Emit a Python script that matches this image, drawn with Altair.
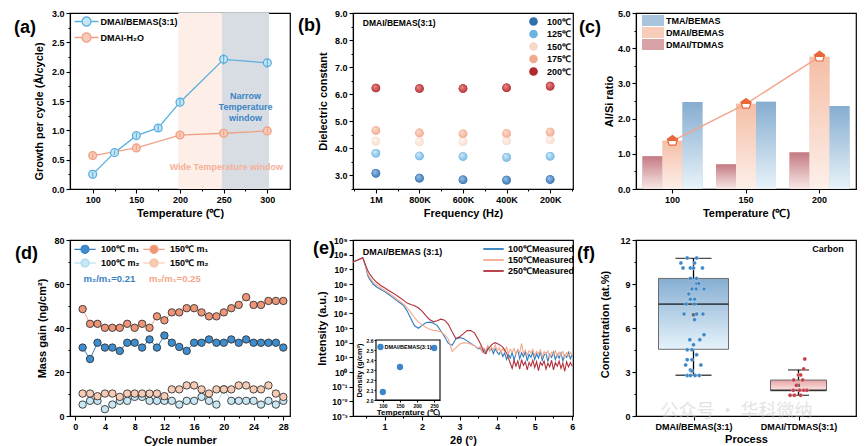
import math
import altair as alt
import pandas as pd

W, H = 220, 176
SPC_COL, SPC_ROW = 63, 51
FONT = "Liberation Sans"

# ---------------- (a) growth per cycle ----------------
a_series = ["DMAI/BEMAS(3:1)", "DMAI-H₂O"]
a_temp_bemas = [100, 125, 150, 175, 200, 250, 300]
a_gpc_bemas = [0.25, 0.62, 0.91, 1.04, 1.48, 2.21, 2.15]
a_err_bemas = [0.04, 0.04, 0.05, 0.05, 0.05, 0.09, 0.08]
a_temp_h2o = [100, 150, 200, 250, 300]
a_gpc_h2o = [0.57, 0.70, 0.92, 0.95, 0.99]
a_err_h2o = [0.04, 0.04, 0.04, 0.04, 0.04]
a_window_name = ["Wide", "Narrow"]
a_window_start = [198, 248]
a_window_end = [248, 302]
a_note_text = ["Narrow\nTemperature\nwindow", "Wide Temperature window"]
a_note_x = [275, 253]
a_note_y = [1.58, 0.375]
a_ticks_x = [100, 125, 150, 175, 200, 225, 250, 275, 300]
a_ticks_y = [0, 0.25, 0.5, 0.75, 1.0, 1.25, 1.5, 1.75, 2.0, 2.25, 2.5, 2.75, 3.0]

# ---------------- (b) dielectric constant ----------------
b_freq = ["1M", "800K", "600K", "400K", "200K"]
b_pos = [1, 2, 3, 4, 5]
b_temp = ["100℃", "125℃", "150℃", "175℃", "200℃"]
b_k_100 = [3.08, 2.90, 2.84, 2.83, 2.85]
b_k_125 = [3.82, 3.72, 3.70, 3.67, 3.71]
b_k_150 = [4.27, 4.25, 4.25, 4.28, 4.32]
b_k_175 = [4.66, 4.57, 4.54, 4.55, 4.60]
b_k_200 = [6.23, 6.21, 6.21, 6.24, 6.30]
b_ticks_x = [0.5, 1, 1.5, 2, 2.5, 3, 3.5, 4, 4.5, 5, 5.5]
b_ticks_y = [2.5, 3.0, 3.5, 4.0, 4.5, 5.0, 5.5, 6.0, 6.5, 7.0, 7.5, 8.0, 8.5, 9.0]

# ---------------- (c) Al/Si ratio ----------------
c_temp = ["100", "150", "200"]
c_series = ["DMAI/TDMAS", "DMAI/BEMAS", "TMA/BEMAS"]
c_legend_order = ["TMA/BEMAS", "DMAI/BEMAS", "DMAI/TDMAS"]
c_tdmas = [0.93, 0.70, 1.04]
c_bemas = [1.37, 2.42, 3.76]
c_tma = [2.47, 2.48, 2.36]
c_ticks_y = [0, 0.5, 1.0, 1.5, 2.0, 2.5, 3.0, 3.5, 4.0, 4.5, 5.0]

# ---------------- (d) mass gain ----------------
d_series = ["100℃ m₁", "150℃ m₁", "100℃ m₂", "150℃ m₂"]
d_legend_order = ["100℃ m₁", "100℃ m₂", "150℃ m₁", "150℃ m₂"]  # legend fills column-wise
d_cycle = [1, 2, 3, 4, 5, 6, 7, 8, 9, 10, 11, 12, 13, 14, 15, 16, 17, 18, 19, 20,
           21, 22, 23, 24, 25, 26, 27, 28]
d_100_m1 = [31.1, 25.9, 33.3, 31.1, 31.1, 29.6, 33.3, 33.3, 31.1, 34.8, 31.1, 36.6, 33.3, 31.4,
            29.6, 33.3, 33.3, 34.8, 33.3, 33.3, 34.8, 33.3, 34.8, 33.3, 33.3, 33.3, 33.3, 31.1]
d_150_m1 = [48.6, 41.9, 41.9, 40.1, 40.1, 40.1, 41.9, 40.1, 41.9, 40.1, 45.3, 43.5, 47.1, 47.1,
            49.0, 49.0, 47.1, 45.3, 45.3, 47.1, 49.0, 50.5, 54.0, 50.5, 50.5, 52.3, 52.3, 52.3]
d_100_m2 = [5.2, 6.9, 6.9, 3.1, 5.2, 6.9, 6.9, 8.7, 8.7, 6.9, 6.9, 6.9, 6.9, 5.2,
            6.9, 6.9, 8.7, 6.9, 5.2, 12.1, 6.9, 6.9, 6.9, 6.9, 5.2, 6.9, 5.2, 6.9]
d_150_m2 = [10.2, 10.2, 9.0, 10.2, 10.2, 8.7, 10.2, 10.2, 10.2, 10.2, 10.2, 9.0, 12.1, 12.1,
            13.9, 13.9, 12.1, 10.2, 12.1, 12.1, 12.1, 13.9, 13.9, 12.1, 12.1, 13.9, 10.2, 8.7]
d_note_text = ["m₂/m₁=0.21", "m₂/m₁=0.25"]
d_note_x = [4.6, 13.4]
d_note_y = [62.5, 62.5]
d_ticks_x = [0, 2, 4, 6, 8, 10, 12, 14, 16, 18, 20, 22, 24, 26, 28]
d_ticks_y = [0, 10, 20, 30, 40, 50, 60, 70, 80]

# ---------------- (e) XRR ----------------
e_series = ["100℃Measured", "150℃Measured", "250℃Measured"]
e_x = [0.16, 0.3, 0.42, 0.5, 0.55, 0.6, 0.7, 0.8, 0.9, 1.0, 1.1, 1.2, 1.3, 1.4, 1.5, 1.6, 1.7,
       1.8, 1.9, 2.0, 2.1, 2.2, 2.3, 2.4, 2.5, 2.6, 2.7, 2.8, 2.9, 3.0, 3.1, 3.2, 3.3, 3.4, 3.5,
       3.55, 3.6, 3.65, 3.7, 3.75, 3.8, 3.85, 3.9, 3.95, 4.0, 4.05, 4.1, 4.15, 4.2, 4.25, 4.3,
       4.35, 4.4, 4.45, 4.5, 4.55, 4.6, 4.65, 4.7, 4.75, 4.8, 4.85, 4.9, 4.95, 5.0, 5.05, 5.1,
       5.15, 5.2, 5.25, 5.3, 5.35, 5.4, 5.45, 5.5, 5.55, 5.6, 5.65, 5.7, 5.75, 5.8, 5.85, 5.9,
       5.95, 6.0]
# log10 of measured intensity
e_exp_100 = [7.5, 7.65, 7.79, 7.16, 6.6, 6.35, 5.98, 5.78, 5.62, 5.48,
             5.30, 5.12, 4.92, 4.74, 4.55, 4.17, 3.65, 3.15, 2.98, 3.18,
             3.36, 3.40, 3.33, 3.18, 2.80, 2.40, 1.95, 1.82, 2.25, 2.34,
             2.28, 2.12, 1.95, 1.78, 1.58,
             1.62, 1.40, 1.55, 1.30, 1.72, 1.45, 1.60, 1.25, 1.58, 1.35,
             1.20, 1.45, 1.05, 1.30, 0.85, 1.20, 0.95, 1.35, 0.80, 1.25,
             1.50, 0.90, 1.30, 1.05, 1.40, 0.75, 1.20, 1.00, 1.35, 0.85,
             1.25, 0.95, 1.40, 0.80, 1.15, 1.30, 0.70, 1.20, 1.00, 1.35,
             0.85, 1.20, 0.95, 1.30, 0.75, 1.15, 1.00, 1.35, 0.90, 1.20]
e_exp_150 = [7.5, 7.65, 7.79, 7.2, 6.71, 6.48, 6.12, 5.92, 5.74, 5.58,
             5.40, 5.22, 5.03, 4.84, 4.65, 4.38, 4.05, 3.70, 3.42, 3.20,
             3.05, 2.92, 2.84, 2.82, 2.72, 2.55, 2.25, 1.40, 1.65, 1.89,
             2.0, 1.98, 1.90, 1.78, 1.62,
             1.75, 1.35, 1.65, 1.45, 1.80, 1.40, 1.70, 1.50, 1.85, 1.45,
             1.65, 1.30, 1.60, 1.40, 1.70, 1.25, 1.55, 1.35, 1.60, 1.20,
             1.50, 1.30, 1.95, 1.25, 1.50, 1.15, 1.45, 1.30, 1.55, 1.10,
             1.40, 1.25, 1.50, 1.05, 1.40, 1.20, 1.45, 1.00, 1.35, 1.20,
             1.45, 1.05, 1.35, 1.15, 1.40, 1.00, 1.30, 1.10, 1.35, 1.15]
e_exp_250 = [7.5, 7.65, 7.79, 7.25, 6.94, 6.70, 6.35, 6.10, 5.90, 5.74,
             5.58, 5.42, 5.26, 5.08, 4.90, 4.70, 4.60, 4.52, 4.38, 4.15,
             3.85, 3.58, 3.42, 3.50, 3.60, 3.53, 3.25, 2.75, 2.28, 2.40,
             2.62, 2.82, 2.82, 2.65, 2.20,
             1.95, 1.65, 1.30, 1.25, 1.55, 1.70, 1.85, 1.95, 2.0, 1.95,
             1.88, 1.80, 1.70, 1.50, 1.30, 0.95, 0.60, 0.25, 0.80, 0.40,
             0.75, 0.20, 0.85, 0.45, 0.70, 0.15, 0.65, 0.40, 0.80, 0.30,
             0.70, 0.10, 0.65, 0.45, 0.75, 0.20, 0.60, 0.35, 0.80, 0.15,
             0.65, 0.40, 0.75, 0.25, 0.60, 0.05, 0.70, 0.35, 0.65, 0.40]
e_ticks_x = [0.5, 1, 1.5, 2, 2.5, 3, 3.5, 4, 4.5, 5, 5.5, 6]
e_ticks_y = [1e-3, 1e-2, 1e-1, 1e0, 1e1, 1e2, 1e3, 1e4, 1e5, 1e6, 1e7, 1e8, 1e9]
e_inset_series = ["DMAI/BEMAS(3:1)"]
e_inset_temp = [100, 150, 250]
e_inset_density = [2.08, 2.33, 2.52]
e_inset_xdomain = [80, 267]
e_inset_ydomain = [2.0, 2.6]
e_inset_ticks_x = [100, 150, 200, 250]
e_inset_ticks_y = [2.0, 2.1, 2.2, 2.3, 2.4, 2.5, 2.6]

# ---------------- (f) carbon concentration ----------------
f_process = ["DMAI/BEMAS(3:1)", "DMAI/TDMAS(3:1)"]
f_pos = [1, 2]
f_whisk_lo = [2.78, 1.41]
f_q1 = [4.55, 1.75]
f_median = [7.63, 1.75]
f_q3 = [9.38, 2.45]
f_whisk_hi = [10.75, 3.14]
f_mean = [6.9, 2.09]
f_bemas_vals = [10.77, 10.77, 10.43, 10.43, 10.09, 10.09, 10.09, 10.09, 9.38, 9.38, 9.04, 9.04,
                8.66, 8.66, 8.66, 8.32, 7.96, 7.96, 7.63, 7.63, 6.95, 6.95, 6.95, 6.57, 5.54,
                5.20, 5.20, 4.85, 4.51, 4.51, 4.17, 3.84, 3.84, 3.48, 3.48, 3.14, 3.07, 2.76,
                2.76, 2.76, 2.76]
f_bemas_off = [-0.06, 0.03, -0.12, 0.01, -0.10, -0.03, 0.0, 0.085, -0.03, 0.03, 0.03, 0.05,
               -0.015, 0.025, 0.10, -0.045, -0.03, 0.01, -0.07, 0.01, -0.09, 0.03, 0.09, 0.01,
               0.10, -0.035, 0.06, 0.0, -0.015, -0.06, 0.03, -0.015, -0.06, 0.07, -0.075,
               -0.03, -0.015, -0.06, -0.03, 0.015, 0.055]
f_tdmas_vals = [3.88, 3.21, 2.80, 2.80, 2.45, 2.45, 2.09, 1.75, 1.75, 1.75, 1.75, 1.41, 1.41, 1.41]
f_tdmas_off = [0.06, 0.05, 0.0, 0.02, -0.045, 0.04, -0.02, -0.05, 0.01, 0.05, 0.08, -0.08,
               -0.04, 0.02]
f_ticks_y = [0, 1.5, 3, 4.5, 6, 7.5, 9, 10.5, 12]
f_watermark = ["公众号 · 华科微纳"]


# ---------------- helpers ----------------
def tick_size(test):
    return {"condition": {"test": test, "value": 4}, "value": 2}


def x_axis(title, values=None, test=None, fmt=None, label_expr=None, title_y=24, **extra):
    kw = dict(title=title, titleX=W / 2, titleY=title_y, titleBaseline="middle",
              tickSize=4, labelPadding=2, labelFlush=False, labelOverlap=False)
    if values is not None:
        kw["values"] = values
    if test is not None:
        kw["tickSize"] = tick_size(test)
        kw["labelExpr"] = f"({test}) ? datum.label : ''"
    if label_expr is not None:
        kw["labelExpr"] = label_expr
    if fmt is not None:
        kw["format"] = fmt
    kw.update(extra)
    return alt.Axis(**kw)


def y_axis(title, values=None, test=None, fmt=None, title_x=-30, title_dy=0, label_expr=None,
           **extra):
    kw = dict(title=title, titleX=title_x, titleY=H / 2 + title_dy, titleBaseline="middle",
              tickSize=4, labelPadding=2, labelFlush=False, labelOverlap=False)
    if values is not None:
        kw["values"] = values
    if test is not None:
        kw["tickSize"] = tick_size(test)
        kw["labelExpr"] = f"({test}) ? datum.label : ''"
    if label_expr is not None:
        kw["labelExpr"] = label_expr
    if fmt is not None:
        kw["format"] = fmt
    kw.update(extra)
    return alt.Axis(**kw)


def legend_at(dx, dy, **kw):
    # position relative to the panel's own plot area
    return alt.Legend(orient="none", legendX=dx, legendY=dy, title=None, **kw)


def panel_label(text, dx, dy):
    return alt.Chart(pd.DataFrame({"t": [text]})).mark_text(
        align="left", baseline="middle", fontSize=18, fontWeight="bold", font=FONT
    ).encode(text="t:N", x=alt.value(dx), y=alt.value(dy))


def vgrad(top, bottom):
    return {"gradient": "linear", "x1": 0, "y1": 0, "x2": 0, "y2": 1,
            "stops": [{"offset": 0, "color": top}, {"offset": 1, "color": bottom}]}


def rgrad(hi, base):
    return {"gradient": "radial", "x1": 0.35, "y1": 0.32, "r1": 0.02, "x2": 0.5, "y2": 0.5,
            "r2": 0.6, "stops": [{"offset": 0, "color": hi}, {"offset": 1, "color": base}]}


# legend glyph: a short line with a marker in the middle
_ring = "L".join(f"{0.8 * math.cos(2 * math.pi * i / 20):.3f},{0.8 * math.sin(2 * math.pi * i / 20):.3f}"
                 for i in range(20))
LINE_DOT = "M-2.13,0L-0.8,0M0.8,0L2.13,0M" + _ring + "Z"

# ================= panel (a) =================
a_df = pd.concat([
    pd.DataFrame({"T": a_temp_bemas, "G": a_gpc_bemas, "E": a_err_bemas, "S": a_series[0]}),
    pd.DataFrame({"T": a_temp_h2o, "G": a_gpc_h2o, "E": a_err_h2o, "S": a_series[1]}),
], ignore_index=True)
a_df["lo"] = a_df["G"] - a_df["E"]
a_df["hi"] = a_df["G"] + a_df["E"]

a_sx = alt.Scale(domain=[74, 326], nice=False, zero=False)
a_sy = alt.Scale(domain=[0, 3], nice=False, zero=False)
a_ax = x_axis("Temperature (℃)", a_ticks_x, "datum.value % 50 == 0")
a_ay = y_axis("Growth per cycle (Å/cycle)", a_ticks_y, "datum.value % 0.5 == 0", fmt=".1f",
              title_x=-31, title_dy=10)
a_stroke = alt.Scale(domain=a_series, range=["#5aafdd", "#f0a184"])
a_fill = alt.Scale(domain=a_series, range=["#c3e5f4", "#f8cbb8"])
a_leg = legend_at(10, 2, symbolType=LINE_DOT, symbolSize=127, symbolStrokeWidth=1.3,
                  labelOffset=7.5, rowPadding=1, labelFontSize=9)

a_layers = []
for name, s, e, col in zip(a_window_name, a_window_start, a_window_end, ["#fdeee8", "#d8dde3"]):
    a_layers.append(
        alt.Chart(pd.DataFrame({"s": [s], "e": [e], "n": [name]})).mark_rect(fill=col).encode(
            x=alt.X("s:Q", scale=a_sx, axis=a_ax), x2="e:Q"))
a_layers.append(alt.Chart(a_df).mark_line(strokeWidth=1.3).encode(
    x=alt.X("T:Q", scale=a_sx, axis=a_ax), y=alt.Y("G:Q", scale=a_sy, axis=a_ay),
    color=alt.Color("S:N", scale=a_stroke, legend=a_leg)))
a_layers.append(alt.Chart(a_df).mark_circle(size=62, opacity=1, strokeWidth=1.3).encode(
    x=alt.X("T:Q", scale=a_sx, axis=a_ax), y=alt.Y("G:Q", scale=a_sy, axis=a_ay),
    fill=alt.Fill("S:N", scale=a_fill, legend=a_leg),
    stroke=alt.Stroke("S:N", scale=a_stroke, legend=a_leg)))
a_layers.append(alt.Chart(a_df).mark_rule(strokeWidth=1.1).encode(
    x=alt.X("T:Q", scale=a_sx, axis=a_ax), y=alt.Y("lo:Q", scale=a_sy, axis=a_ay), y2="hi:Q",
    color=alt.Color("S:N", scale=a_stroke, legend=a_leg)))
for t, x, y, col in zip(a_note_text, a_note_x, a_note_y, ["#3b84c4", "#f5b197"]):
    a_layers.append(alt.Chart(pd.DataFrame({"t": [t], "x": [x], "y": [y]})).mark_text(
        fontSize=9, fontWeight="bold", color=col, lineBreak="\n", lineHeight=11).encode(
        x=alt.X("x:Q", scale=a_sx, axis=a_ax), y=alt.Y("y:Q", scale=a_sy, axis=a_ay), text="t:N"))
a_layers.append(panel_label("(a)", -56, 15))
chart_a = alt.layer(*a_layers).properties(width=W, height=H)

# ================= panel (b) =================
b_cols = ["#2f6fae", "#6cb2e2", "#f7d9ca", "#f1a88c", "#b1282d"]
b_hi = ["#9cc2e8", "#d2ebf8", "#fff6f2", "#fcdccf", "#e88a8a"]
b_df = pd.concat([pd.DataFrame({"p": b_pos, "k": v, "T": t})
                  for t, v in zip(b_temp, [b_k_100, b_k_125, b_k_150, b_k_175, b_k_200])],
                 ignore_index=True)
b_sx = alt.Scale(domain=[0.475, 5.525], nice=False, zero=False)
b_sy = alt.Scale(domain=[2.5, 9.0], nice=False, zero=False)
b_label_expr = ("datum.value % 1 == 0 ? " + str(b_freq) + "[round(datum.value) - 1] : ''")
b_ax = x_axis("Frequency (Hz)", b_ticks_x, "datum.value % 1 == 0", label_expr=b_label_expr)
b_ay = y_axis("Dielectric constant", b_ticks_y, "datum.value % 1 == 0", fmt=".1f", title_x=-30)
b_leg = legend_at(175, 3, symbolType="circle", symbolSize=75, labelOffset=8,
                  rowPadding=1.5, labelFontSize=9)
b_layers = [alt.Chart(b_df).mark_circle(size=75, opacity=1).encode(
    x=alt.X("p:Q", scale=b_sx, axis=b_ax), y=alt.Y("k:Q", scale=b_sy, axis=b_ay),
    fill=alt.Fill("T:N", scale=alt.Scale(domain=b_temp, range=b_cols), legend=b_leg))]
for t, base, hi in zip(b_temp, b_cols, b_hi):
    b_layers.append(alt.Chart(b_df[b_df["T"] == t]).mark_circle(
        size=75, opacity=1, fill=rgrad(hi, base)).encode(
        x=alt.X("p:Q", scale=b_sx, axis=b_ax), y=alt.Y("k:Q", scale=b_sy, axis=b_ay)))
b_layers.append(alt.Chart(pd.DataFrame({"t": ["DMAI/BEMAS(3:1)"], "x": [0.70], "y": [8.63]}))
                .mark_text(align="left", baseline="middle", fontSize=8.5, fontWeight="bold")
                .encode(x=alt.X("x:Q", scale=b_sx, axis=b_ax), y=alt.Y("y:Q", scale=b_sy, axis=b_ay),
                        text="t:N"))
b_layers.append(panel_label("(b)", -55, 13))
chart_b = alt.layer(*b_layers).properties(width=W, height=H)

# ================= panel (c) =================
c_df = pd.concat([pd.DataFrame({"T": c_temp, "v": v, "S": s})
                  for s, v in zip(c_series, [c_tdmas, c_bemas, c_tma])], ignore_index=True)
c_sx = alt.Scale(domain=c_temp, paddingInner=0.184, paddingOuter=0.088)
c_off = alt.Scale(domain=c_series, paddingInner=0, paddingOuter=0)
c_sy = alt.Scale(domain=[0, 5], nice=False, zero=False)
c_ax = x_axis("Temperature (℃)", labelAngle=0)
c_ay = y_axis("Al/Si ratio", c_ticks_y, "datum.value % 1 == 0", fmt=".1f", title_x=-27)
c_leg = legend_at(11.5, 2, symbolType="M-2,-1H2V1H-2Z", symbolSize=121,
                  symbolStrokeWidth=0, labelOffset=7.5, rowPadding=1, labelFontSize=9)
c_solid = {"TMA/BEMAS": "#a9c5de", "DMAI/BEMAS": "#f7cdb9", "DMAI/TDMAS": "#d9a2a6"}
c_grad = {"DMAI/TDMAS": vgrad("#c47a83", "#f8e8e6"),
          "DMAI/BEMAS": vgrad("#f5bea6", "#fcf0ea"),
          "TMA/BEMAS": vgrad("#86add0", "#e8f3f9")}
c_enc = dict(x=alt.X("T:N", scale=c_sx, axis=c_ax, sort=c_temp),
             xOffset=alt.XOffset("S:N", scale=c_off, sort=c_series),
             y=alt.Y("v:Q", scale=c_sy, axis=c_ay))
c_layers = [alt.Chart(c_df).mark_bar().encode(
    fill=alt.Fill("S:N", scale=alt.Scale(domain=c_legend_order,
                                         range=[c_solid[s] for s in c_legend_order]),
                  legend=c_leg), **c_enc)]
for s in c_series:
    c_layers.append(alt.Chart(c_df[c_df["S"] == s]).mark_bar(fill=c_grad[s]).encode(**c_enc))
c_line_df = pd.DataFrame({"T": c_temp, "v": c_bemas})
c_pt_enc = dict(x=alt.X("T:N", scale=c_sx, axis=c_ax, sort=c_temp),
                y=alt.Y("v:Q", scale=c_sy, axis=c_ay))
c_layers.append(alt.Chart(c_line_df).mark_line(color="#f3a487", strokeWidth=1.4).encode(**c_pt_enc))
c_layers.append(alt.Chart(c_line_df).mark_point(
    shape="M0,-1L0.951,-0.309L0.588,0.809L-0.588,0.809L-0.951,-0.309Z", filled=True,
    color="#e8683a", size=150, opacity=1).encode(**c_pt_enc))
c_layers.append(alt.Chart(c_line_df).mark_point(
    shape="M-0.62,0.05L0.62,0.05L0.45,0.62L-0.45,0.62Z", filled=True,
    color="#ffffff", size=150, opacity=1).encode(**c_pt_enc))
c_layers.append(panel_label("(c)", -57, 15))
chart_c = alt.layer(*c_layers).properties(width=W, height=H)

# ================= panel (d) =================
d_df = pd.concat([pd.DataFrame({"c": d_cycle, "m": v, "S": s})
                  for s, v in zip(d_series, [d_100_m1, d_150_m1, d_100_m2, d_150_m2])],
                 ignore_index=True)
d_sx = alt.Scale(domain=[-0.7, 28.9], nice=False, zero=False)
d_sy = alt.Scale(domain=[0, 80], nice=False, zero=False)
d_ax = x_axis("Cycle number", d_ticks_x, "datum.value % 4 == 0")
d_ay = y_axis("Mass gain (ng/cm²)", d_ticks_y, "datum.value % 20 == 0", title_x=-28)
d_line_col = {"100℃ m₁": "#3b7fc0", "150℃ m₁": "#f0a080", "100℃ m₂": "#a8d8ec", "150℃ m₂": "#f3c1a8"}
d_fill_col = {"100℃ m₁": "#3d8ed0", "150℃ m₁": "#ee9577", "100℃ m₂": "#c8e7f4", "150℃ m₂": "#f8cbb5"}
d_line_c = alt.Scale(domain=d_legend_order, range=[d_line_col[s] for s in d_legend_order])
d_fill_c = alt.Scale(domain=d_legend_order, range=[d_fill_col[s] for s in d_legend_order])
d_leg = legend_at(9, 3, columns=2, symbolType=LINE_DOT, symbolSize=100,
                  symbolStrokeWidth=1.2, labelOffset=10,
                  rowPadding=0, columnPadding=0, labelFontSize=9)
d_layers = [
    alt.Chart(d_df).mark_line(strokeWidth=1).encode(
        x=alt.X("c:Q", scale=d_sx, axis=d_ax), y=alt.Y("m:Q", scale=d_sy, axis=d_ay),
        color=alt.Color("S:N", scale=d_line_c, legend=d_leg)),
    alt.Chart(d_df).mark_circle(size=55, opacity=1, stroke="#333333", strokeWidth=0.9).encode(
        x=alt.X("c:Q", scale=d_sx, axis=d_ax), y=alt.Y("m:Q", scale=d_sy, axis=d_ay),
        fill=alt.Fill("S:N", scale=d_fill_c, legend=d_leg)),
]
for t, x, y, col in zip(d_note_text, d_note_x, d_note_y, ["#3a7fc4", "#f4a688"]):
    d_layers.append(alt.Chart(pd.DataFrame({"t": [t], "x": [x], "y": [y]})).mark_text(
        fontSize=9.5, fontWeight="bold", color=col).encode(
        x=alt.X("x:Q", scale=d_sx, axis=d_ax), y=alt.Y("y:Q", scale=d_sy, axis=d_ay), text="t:N"))
d_layers.append(panel_label("(d)", -55, 14))
chart_d = alt.layer(*d_layers).properties(width=W, height=H)

# ================= panel (e) =================
e_df = pd.concat([pd.DataFrame({"x": e_x, "L": v, "S": s})
                  for s, v in zip(e_series, [e_exp_100, e_exp_150, e_exp_250])],
                 ignore_index=True)
e_df["I"] = 10.0 ** e_df["L"]
e_sx = alt.Scale(domain=[0.16, 6.02], nice=False, zero=False)
e_sy = alt.Scale(type="log", domain=[1e-3, 1e9], nice=False)
e_sup = "['⁰','¹','²','³','⁴','⁵','⁶','⁷','⁸','⁹']"
e_exp = "round(log(datum.value) / LN10)"
e_label_expr = f"'10' + ({e_exp} < 0 ? '⁻' : '') + {e_sup}[abs({e_exp})]"
e_ax = x_axis("2θ (°)", e_ticks_x, "datum.value % 1 == 0", fmt=".0f")
e_ay = y_axis("Intensity (a.u.)", e_ticks_y, label_expr=e_label_expr, title_x=-31,
              labelFontSize=8.5)
e_leg = legend_at(136, 4.5, symbolType="M-3.4,0H3.4", symbolSize=36,
                  symbolStrokeWidth=1.8, labelOffset=10, rowPadding=1, labelFontSize=9)
e_main = alt.Chart(e_df).mark_line(strokeWidth=1.1, clip=True).encode(
    x=alt.X("x:Q", scale=e_sx, axis=e_ax), y=alt.Y("I:Q", scale=e_sy, axis=e_ay),
    color=alt.Color("S:N", scale=alt.Scale(domain=e_series,
                                           range=["#2d7dc0", "#f4aa8e", "#b2303b"]),
                    legend=e_leg))
e_text = alt.Chart(pd.DataFrame({"t": ["DMAI/BEMAS (3:1)"], "x": [0.42], "y": [1.5e8]})).mark_text(
    align="left", baseline="middle", fontSize=9, fontWeight="bold").encode(
    x=alt.X("x:Q", scale=e_sx, axis=e_ax), y=alt.Y("y:Q", scale=e_sy, axis=e_ay), text="t:N")
e_base = alt.layer(e_main, e_text, panel_label("(e)", -40, 9))

ins_sx = alt.Scale(domain=e_inset_xdomain, range=[23, 87], nice=False, zero=False)
ins_sy = alt.Scale(domain=e_inset_ydomain, range=[160, 100], nice=False, zero=False)
ins_ax = alt.Axis(orient="bottom", offset=-(H - 160), values=e_inset_ticks_x, title="Temperature (℃)",
                  titleFontSize=8, titleX=55, titleY=12.5, titleBaseline="middle",
                  labelFontSize=5, tickSize=2, labelPadding=1, labelFlush=False,
                  labelOverlap=False)
ins_ay = alt.Axis(orient="left", offset=-23, values=e_inset_ticks_y, format=".1f",
                  title="Density (g/cm³)", titleFontSize=7.5, titleX=-17, titleY=130,
                  titleBaseline="middle", labelFontSize=5, tickSize=2, labelPadding=1,
                  labelFlush=False, labelOverlap=False)
ins_frame = alt.Chart(pd.DataFrame({"x0": [e_inset_xdomain[0]], "x1": [e_inset_xdomain[1]],
                                    "y0": [e_inset_ydomain[0]], "y1": [e_inset_ydomain[1]]})).mark_rect(
    fill="white", stroke="black", strokeWidth=1.1).encode(
    x=alt.X("x0:Q", scale=ins_sx, axis=ins_ax), x2="x1:Q",
    y=alt.Y("y0:Q", scale=ins_sy, axis=ins_ay), y2="y1:Q")
ins_leg = legend_at(23.5, 103, symbolType="circle", symbolSize=40, labelOffset=0,
                    labelFontSize=5.5)
ins_pts = alt.Chart(pd.DataFrame({"T": e_inset_temp, "D": e_inset_density,
                                  "S": e_inset_series * 3})).mark_circle(size=40, opacity=1).encode(
    x=alt.X("T:Q", scale=ins_sx, axis=ins_ax), y=alt.Y("D:Q", scale=ins_sy, axis=ins_ay),
    fill=alt.Fill("S:N", scale=alt.Scale(domain=e_inset_series, range=["#3a86c8"]), legend=ins_leg))
e_inset = alt.layer(ins_frame, ins_pts)
chart_e = alt.layer(e_base, e_inset).resolve_scale(x="independent", y="independent").properties(
    width=W, height=H)

# ================= panel (f) =================
f_stats = pd.DataFrame({"p": f_pos, "lo": f_whisk_lo, "q1": f_q1, "med": f_median, "q3": f_q3,
                        "hi": f_whisk_hi, "mean": f_mean, "n": f_process})
f_pts = pd.concat([
    pd.DataFrame({"p": [f_pos[0] + o for o in f_bemas_off], "v": f_bemas_vals, "n": f_process[0]}),
    pd.DataFrame({"p": [f_pos[1] + o for o in f_tdmas_off], "v": f_tdmas_vals, "n": f_process[1]}),
], ignore_index=True)
f_sx = alt.Scale(domain=[0.5, 2.5], nice=False, zero=False)
f_sy = alt.Scale(domain=[0, 12], nice=False, zero=False)
f_label_expr = ("datum.value == 1 ? '" + f_process[0] + "' : (datum.value == 2 ? '"
                + f_process[1] + "' : '')")
f_ax = x_axis("Process", [1, 2], label_expr=f_label_expr, title_y=23)
f_ay = y_axis("Concentration (at.%)", f_ticks_y, "datum.value % 3 == 0", title_x=-31, title_dy=-4)


def fx(field):
    return alt.X(f"{field}:Q", scale=f_sx, axis=f_ax)


def fy(field):
    return alt.Y(f"{field}:Q", scale=f_sy, axis=f_ay)


f_layers = [alt.Chart(f_stats).mark_rule(color="black", strokeWidth=1.3).encode(
    x=fx("p"), y=fy("lo"), y2="hi:Q")]
box_w = [70, 56]
cap_w = [36, 21]
box_grad = [vgrad("#86aed2", "#e6f3fb"), vgrad("#e6a3a3", "#fbe6e4")]
for i, name in enumerate(f_process):
    row = f_stats[f_stats["n"] == name]
    f_layers.append(alt.Chart(row).mark_tick(orient="horizontal", size=cap_w[i], thickness=1.3,
                                             color="black").encode(x=fx("p"), y=fy("lo")))
    f_layers.append(alt.Chart(row).mark_tick(orient="horizontal", size=cap_w[i], thickness=1.3,
                                             color="black").encode(x=fx("p"), y=fy("hi")))
    f_layers.append(alt.Chart(row).mark_bar(size=box_w[i], fill=box_grad[i], stroke="#6b6b6b",
                                            strokeWidth=1).encode(x=fx("p"), y=fy("q1"), y2="q3:Q"))
    f_layers.append(alt.Chart(row).mark_tick(orient="horizontal", size=box_w[i], thickness=1.6,
                                             color="#111111").encode(x=fx("p"), y=fy("med")))
f_layers.append(alt.Chart(f_stats).mark_square(size=10, color="#666666", opacity=1).encode(
    x=fx("p"), y=fy("mean")))
for name, col in zip(f_process, ["#3b87c8", "#c83a45"]):
    f_layers.append(alt.Chart(f_pts[f_pts["n"] == name]).mark_circle(
        size=16, color=col, opacity=1, stroke="#ffffff", strokeWidth=0.3).encode(x=fx("p"), y=fy("v")))
f_layers.append(alt.Chart(pd.DataFrame({"t": ["Carbon"], "x": [2.43], "y": [11.39]})).mark_text(
    align="right", baseline="middle", fontSize=9, fontWeight="bold").encode(
    x=fx("x"), y=fy("y"), text="t:N"))
f_layers.append(alt.Chart(pd.DataFrame({"t": f_watermark, "x": [1.41], "y": [0.3]})).mark_text(
    font="Noto Sans CJK SC", fontSize=18, fontWeight="normal", color="#c8c8c8", opacity=0.5,
    baseline="middle").encode(x=fx("x"), y=fy("y"), text="t:N"))
f_layers.append(panel_label("(f)", -59, 14))
chart_f = alt.layer(*f_layers).properties(width=W, height=H)

# ================= assemble =================
chart = alt.concat(chart_a, chart_b, chart_c, chart_d, chart_e, chart_f, columns=3,
                   spacing={"row": SPC_ROW, "column": SPC_COL}, bounds="flush").resolve_scale(
    color="independent", fill="independent", stroke="independent"
).resolve_legend(
    color="independent", fill="independent", stroke="independent"
).properties(
    padding={"left": 5, "top": 0, "right": 0, "bottom": 0}
).configure(font=FONT).configure_axis(
    labelFont=FONT, labelFontWeight="bold", labelFontSize=9, labelColor="black",
    titleFont=FONT, titleFontWeight="bold", titleFontSize=11, titleColor="black",
    domainColor="black", tickColor="black", domainWidth=1.1, tickWidth=1.1, grid=False
).configure_view(stroke="black", strokeWidth=1.2).configure_legend(
    labelFont=FONT, labelFontWeight="bold", labelColor="black", padding=0
).configure_text(font=FONT)

chart.save("out.html", embed_options={"renderer": "svg", "actions": False})
